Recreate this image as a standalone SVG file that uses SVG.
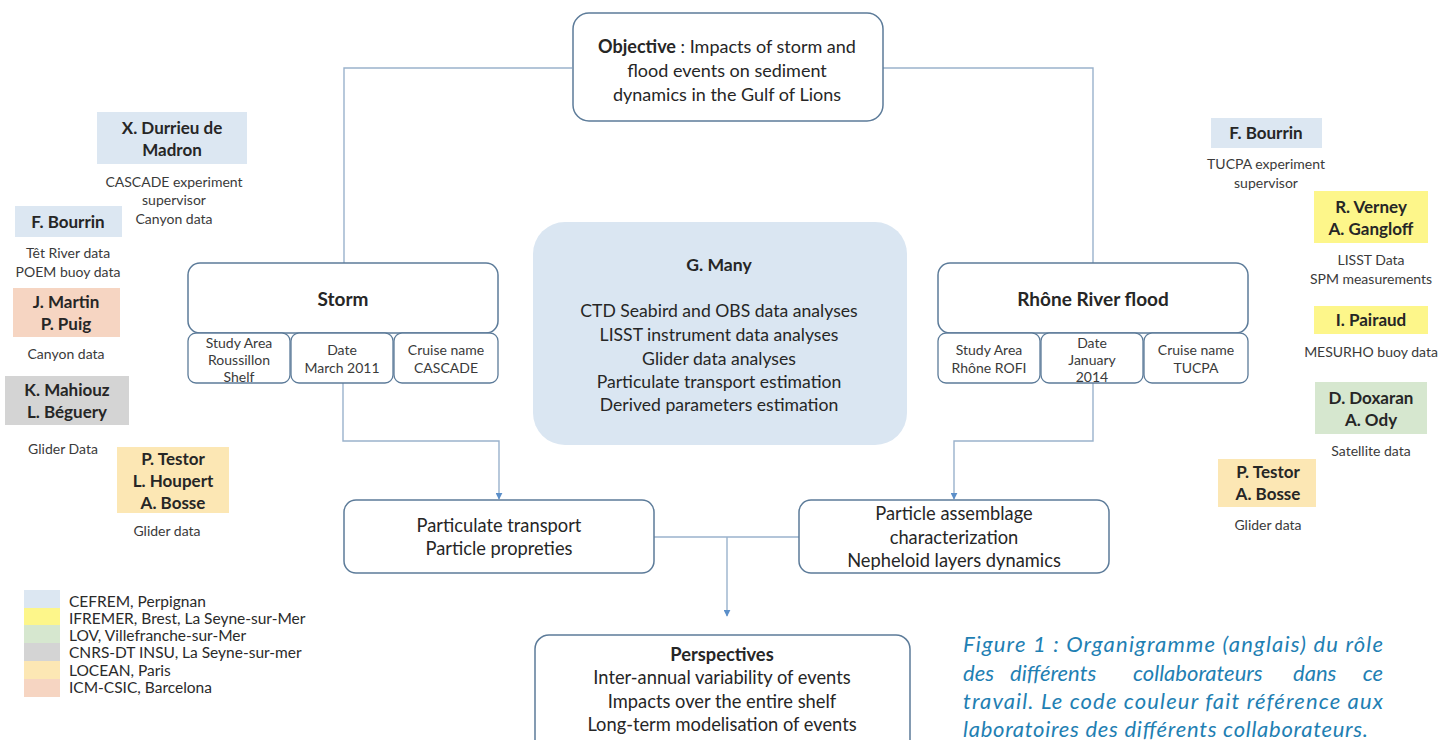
<svg xmlns="http://www.w3.org/2000/svg" width="1456" height="740" viewBox="0 0 1456 740">
<defs>
<marker id="arr" viewBox="0 0 10 10" refX="9" refY="5" markerWidth="7" markerHeight="7" orient="auto" markerUnits="userSpaceOnUse">
<path d="M0,0 L10,5 L0,10 z" fill="#5b8fc9"/>
</marker>
<style>
.box{fill:#fff;stroke:#5c7b99;stroke-width:1.5}
.sub{fill:#fff;stroke:#5c7b99;stroke-width:1.3}
.con{fill:none;stroke:#9ab2cc;stroke-width:1.4}
text{font-family:Lato,"Open Sans","Liberation Sans",sans-serif;fill:#262626;text-anchor:middle}
.nm{font-weight:bold;font-size:17px}
.ds{font-size:14px;fill:#3a3a3a}
.sm{font-size:14px;fill:#3a3a3a}
.md{font-size:18.3px}
.gm{font-size:17.6px}
.ob{font-size:18px}
.ti{font-size:19px;font-weight:bold}
.lg{font-size:15.5px;fill:#2a2a2a;text-anchor:start}
.cap{font-style:italic;font-size:22px;fill:#1f80b3;text-anchor:start}
.cblue{fill:#dce7f2}.cyel{fill:#fdf68a}.cgrn{fill:#d6e7cf}.cgry{fill:#d4d4d4}.corg{fill:#fce7b4}.cpch{fill:#f6d5c2}
</style>
</defs>
<rect width="1456" height="740" fill="#fff"/>

<g id="connectors">
<path class="con" d="M572,68 H344 V263"/>
<path class="con" d="M883,68 H1093 V263"/>
<path class="con" d="M343,383 V441 H499 V499" marker-end="url(#arr)"/>
<path class="con" d="M1093,383 V441 H954 V499" marker-end="url(#arr)"/>
<path class="con" d="M654,537 H799"/>
<path class="con" d="M727,537 V616" marker-end="url(#arr)"/>
</g>

<g id="objective">
<rect class="box" x="573" y="13" width="310" height="108" rx="16"/>
<text class="ob" x="727" y="53"><tspan font-weight="bold">Objective</tspan> : Impacts of storm and</text>
<text class="ob" x="727" y="77">flood events on sediment</text>
<text class="ob" x="727" y="101">dynamics in the Gulf of Lions</text>
</g>

<g id="gmany">
<rect x="533" y="222" width="374" height="223" rx="32" fill="#dae6f2"/>
<text class="gm" x="719" y="271" font-weight="bold">G. Many</text>
<text class="gm" x="719" y="317">CTD Seabird and OBS data analyses</text>
<text class="gm" x="719" y="341">LISST instrument data analyses</text>
<text class="gm" x="719" y="365">Glider data analyses</text>
<text class="gm" x="719" y="388">Particulate transport estimation</text>
<text class="gm" x="719" y="411">Derived parameters estimation</text>
</g>

<g id="storm">
<rect class="box" x="188" y="263" width="310" height="70" rx="12"/>
<text class="ti" x="343" y="306">Storm</text>
<rect class="sub" x="188" y="333" width="102" height="50" rx="8"/>
<rect class="sub" x="291" y="333" width="102" height="50" rx="8"/>
<rect class="sub" x="394" y="333" width="104" height="50" rx="8"/>
<text class="sm" x="239" y="348">Study Area</text>
<text class="sm" x="239" y="365">Roussillon</text>
<text class="sm" x="239" y="382">Shelf</text>
<text class="sm" x="342" y="355">Date</text>
<text class="sm" x="342" y="373">March 2011</text>
<text class="sm" x="446" y="355">Cruise name</text>
<text class="sm" x="446" y="373">CASCADE</text>
</g>

<g id="rhone">
<rect class="box" x="938" y="263" width="310" height="70" rx="12"/>
<text class="ti" x="1093" y="306">Rhône River flood</text>
<rect class="sub" x="938" y="333" width="102" height="50" rx="8"/>
<rect class="sub" x="1041" y="333" width="102" height="50" rx="8"/>
<rect class="sub" x="1144" y="333" width="104" height="50" rx="8"/>
<text class="sm" x="989" y="355">Study Area</text>
<text class="sm" x="989" y="373">Rhône ROFI</text>
<text class="sm" x="1092" y="348">Date</text>
<text class="sm" x="1092" y="365">January</text>
<text class="sm" x="1092" y="382">2014</text>
<text class="sm" x="1196" y="355">Cruise name</text>
<text class="sm" x="1196" y="373">TUCPA</text>
</g>

<g id="particulate">
<rect class="box" x="344" y="500" width="310" height="73" rx="12"/>
<text class="md" x="499" y="532">Particulate transport</text>
<text class="md" x="499" y="555">Particle propreties</text>
</g>

<g id="assemblage">
<rect class="box" x="799" y="500" width="310" height="73" rx="12"/>
<text class="md" x="954" y="520">Particle assemblage</text>
<text class="md" x="954" y="544">characterization</text>
<text class="md" x="954" y="567">Nepheloid layers dynamics</text>
</g>

<g id="perspectives">
<rect class="box" x="535" y="635" width="375" height="120" rx="14"/>
<text class="md" x="722" y="661" font-weight="bold">Perspectives</text>
<text class="md" x="722" y="684">Inter-annual variability of events</text>
<text class="md" x="722" y="708">Impacts over the entire shelf</text>
<text class="md" x="722" y="731">Long-term modelisation of events</text>
</g>

<g id="durrieu">
<rect class="cblue" x="97" y="112" width="150" height="52"/>
<text class="nm" x="172" y="134">X. Durrieu de</text>
<text class="nm" x="172" y="156">Madron</text>
<text class="ds" x="174" y="187">CASCADE experiment</text>
<text class="ds" x="174" y="205">supervisor</text>
<text class="ds" x="174" y="224">Canyon data</text>
</g>

<g id="bourrin-left">
<rect class="cblue" x="15" y="206" width="107" height="31"/>
<text class="nm" x="68" y="228">F. Bourrin</text>
<text class="ds" x="68" y="258">Têt River data</text>
<text class="ds" x="68" y="277">POEM buoy data</text>
</g>

<g id="martin">
<rect class="cpch" x="13" y="288" width="107" height="49"/>
<text class="nm" x="66" y="308">J. Martin</text>
<text class="nm" x="66" y="330">P. Puig</text>
<text class="ds" x="66" y="359">Canyon data</text>
</g>

<g id="mahiouz">
<rect class="cgry" x="5" y="376" width="124" height="49"/>
<text class="nm" x="67" y="396">K. Mahiouz</text>
<text class="nm" x="67" y="418">L. Béguery</text>
<text class="ds" x="63" y="454">Glider Data</text>
</g>

<g id="testor-left">
<rect class="corg" x="117" y="447" width="112" height="66"/>
<text class="nm" x="173" y="465">P. Testor</text>
<text class="nm" x="173" y="487">L. Houpert</text>
<text class="nm" x="173" y="509">A. Bosse</text>
<text class="ds" x="167" y="536">Glider data</text>
</g>

<g id="bourrin-right">
<rect class="cblue" x="1211" y="118" width="111" height="30"/>
<text class="nm" x="1266" y="139">F. Bourrin</text>
<text class="ds" x="1266" y="169">TUCPA experiment</text>
<text class="ds" x="1266" y="188">supervisor</text>
</g>

<g id="verney">
<rect class="cyel" x="1314" y="191" width="114" height="52"/>
<text class="nm" x="1371" y="213">R. Verney</text>
<text class="nm" x="1371" y="235">A. Gangloff</text>
<text class="ds" x="1371" y="265">LISST Data</text>
<text class="ds" x="1371" y="284">SPM measurements</text>
</g>

<g id="pairaud">
<rect class="cyel" x="1314" y="306" width="114" height="28"/>
<text class="nm" x="1371" y="326">I. Pairaud</text>
<text class="ds" x="1371" y="357">MESURHO buoy data</text>
</g>

<g id="doxaran">
<rect class="cgrn" x="1315" y="382" width="112" height="52"/>
<text class="nm" x="1371" y="404">D. Doxaran</text>
<text class="nm" x="1371" y="426">A. Ody</text>
<text class="ds" x="1371" y="456">Satellite data</text>
</g>

<g id="testor-right">
<rect class="corg" x="1218" y="459" width="98" height="48"/>
<text class="nm" x="1268" y="478">P. Testor</text>
<text class="nm" x="1268" y="500">A. Bosse</text>
<text class="ds" x="1268" y="530">Glider data</text>
</g>

<g id="legend">
<rect class="cblue" x="24" y="590" width="36" height="18"/>
<rect class="cyel" x="24" y="608" width="36" height="17"/>
<rect class="cgrn" x="24" y="625" width="36" height="18"/>
<rect class="cgry" x="24" y="643" width="36" height="18"/>
<rect class="corg" x="24" y="661" width="36" height="18"/>
<rect class="cpch" x="24" y="679" width="36" height="18"/>
<text class="lg" x="69" y="607">CEFREM, Perpignan</text>
<text class="lg" x="69" y="624">IFREMER, Brest, La Seyne-sur-Mer</text>
<text class="lg" x="69" y="641">LOV, Villefranche-sur-Mer</text>
<text class="lg" x="69" y="658">CNRS-DT INSU, La Seyne-sur-mer</text>
<text class="lg" x="69" y="676">LOCEAN, Paris</text>
<text class="lg" x="69" y="693">ICM-CSIC, Barcelona</text>
</g>

<g id="caption">
<text class="cap" x="963" y="652" textLength="420" lengthAdjust="spacing">Figure 1 : Organigramme (anglais) du rôle</text>
<text class="cap" x="963" y="681">des</text>
<text class="cap" x="1010" y="681">différents</text>
<text class="cap" x="1133" y="681">collaborateurs</text>
<text class="cap" x="1293" y="681">dans</text>
<text class="cap" x="1383" y="681" style="text-anchor:end">ce</text>
<text class="cap" x="963" y="709" textLength="420" lengthAdjust="spacing">travail. Le code couleur fait référence aux</text>
<text class="cap" x="963" y="737" textLength="405" lengthAdjust="spacing">laboratoires des différents collaborateurs.</text>
</g>
</svg>
